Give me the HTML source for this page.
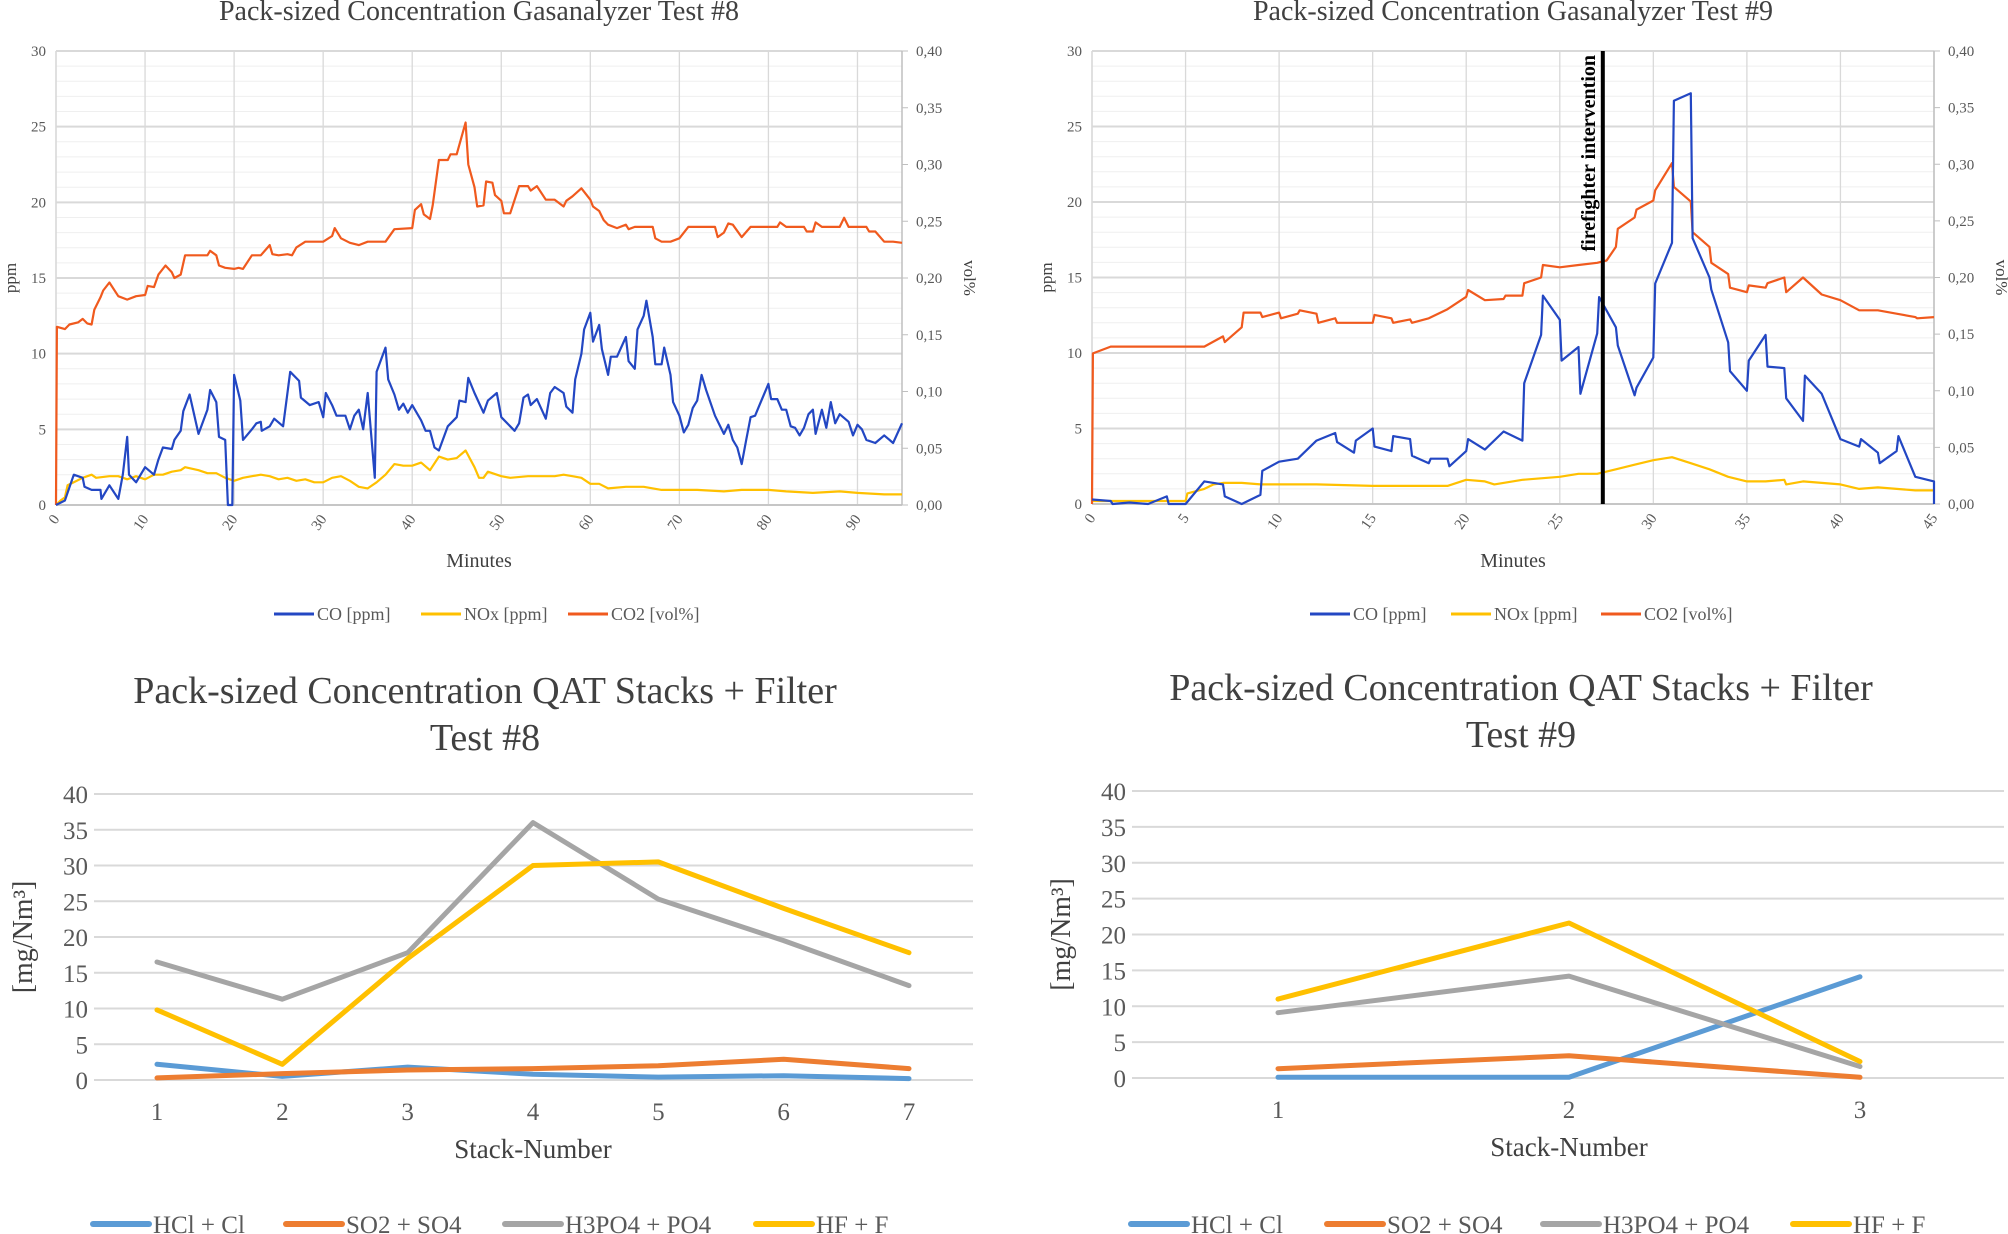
<!DOCTYPE html>
<html><head><meta charset="utf-8">
<style>
html,body{margin:0;padding:0;background:#fff;}
svg{display:block;font-family:"Liberation Serif",serif;}
</style></head>
<body>
<svg id="s" width="2008" height="1234" viewBox="0 0 2008 1234" xmlns="http://www.w3.org/2000/svg"></svg>
<script>
// ---------- Test #8 gas analyzer data ----------
const t8CoMin=[0,1,2,3,3.2,4,5,5.1,6,7,7.5,8,8.2,9,10,11,11.5,12,13,13.3,14,14.3,15,16,17,17.3,18,18.3,19,19.3,19.8,20,20.7,21,22,22.5,23,23.1,24,24.5,25.5,26.3,27.3,27.5,28.5,29.5,30,30.3,31,31.5,32.5,33,33.5,34,34.5,35,35.8,36,37,37.3,38,38.5,39,39.5,40,41,41.5,42,42.5,43,44,45,45.3,46,46.3,47,48,48.5,49.5,50,51,51.5,52,52.5,53,53.3,54,55,55.5,56,57,57.3,58,58.3,59,59.3,60,60.3,61,61.3,62,62.3,63,64,64.3,65,65.3,66,66.3,67,67.3,68,68.3,69,69.3,70,70.5,71,71.5,72,72.5,73,74,75,75.5,76,76.5,77,77.5,78,78.5,79,80,80.3,81,81.5,82,82.5,83,83.5,84,84.5,85,85.3,86,86.5,87,87.5,88,89,89.5,90,90.5,91,92,93,94,95];
const t8Co=[0,0.3,2,1.8,1.2,1.0,1.0,0.4,1.3,0.4,2,4.5,2,1.5,2.5,2,3,3.8,3.7,4.3,4.9,6.2,7.3,4.7,6.3,7.6,6.8,4.5,4.3,0,0,8.6,6.9,4.3,5,5.4,5.5,4.9,5.2,5.7,5.2,8.8,8.2,7.1,6.6,6.8,5.8,7.4,6.6,5.9,5.9,5.0,5.9,6.3,5.0,7.4,1.8,8.8,10.4,8.3,7.3,6.3,6.7,6.1,6.6,5.6,4.9,4.9,3.8,3.6,5.2,5.8,6.9,6.8,8.4,7.4,6.1,6.9,7.4,5.8,5.2,4.9,5.4,7.1,7.3,6.6,7.0,5.7,7.4,7.8,7.4,6.5,6.1,8.3,10,11.6,12.7,10.8,11.9,10.3,8.6,9.8,9.8,11.1,9.5,9.0,11.6,12.5,13.5,11.1,9.3,9.3,10.4,8.6,6.8,5.9,4.8,5.3,6.4,6.9,8.6,7.6,5.9,4.7,5.3,4.3,3.8,2.7,4.3,5.8,5.9,6.6,8.0,7.0,7.0,6.3,6.3,5.2,5.1,4.6,5.1,6.0,6.3,4.7,6.3,5.1,6.8,5.4,6.0,5.5,4.6,5.3,5.0,4.3,4.1,4.6,4.1,5.4];
const t8NoxMin=[0,0.5,1,1.3,2,3,4,4.5,6,7,8,9,10,11,12,13,14,14.5,16,17,18,19,20,21,22,23,24,25,26,27,28,29,30,31,32,33,34,35,36,37,38,39,40,41,42,43,44,45,46,47,47.5,48,48.5,50,51,53,56,57,58,59,60,61,62,64,66,68,72,75,77,80,82,85,88,90,93,95];
const t8Nox=[0,0.3,0.5,1.3,1.5,1.8,2.0,1.8,1.9,1.9,1.7,1.9,1.7,2.0,2.0,2.2,2.3,2.5,2.3,2.1,2.1,1.8,1.6,1.8,1.9,2.0,1.9,1.7,1.8,1.6,1.7,1.5,1.5,1.8,1.9,1.6,1.2,1.1,1.5,2.0,2.7,2.6,2.6,2.8,2.3,3.2,3.0,3.1,3.6,2.5,1.8,1.8,2.2,1.9,1.8,1.9,1.9,2.0,1.9,1.8,1.4,1.4,1.1,1.2,1.2,1.0,1.0,0.9,1.0,1.0,0.9,0.8,0.9,0.8,0.7,0.7];
const t8Co2Min=[0,0.1,1,1.5,2.5,3,3.5,4,4.3,5,5.3,6,7,8,9,10,10.3,11,11.5,12.3,13,13.3,14,14.5,17,17.3,18,18.3,19,20,20.5,21,22,23,24,24.3,25,26,26.5,27,28,30,31,31.3,32,33,34,35,37,38,40,40.3,41,41.3,42,42.3,43,44,44.3,45,46,46.3,47,47.3,48,48.3,49,49.3,50,50.3,51,52,53,53.3,54,55,56,57,57.3,58,59,60,60.3,61,61.5,62,63,64,64.3,65,67,67.3,68,69,70,71,74,74.3,75,75.5,76,77,78,81,81.3,82,84,84.3,85,85.3,86,88,88.5,89,91,91.3,92,93,94,95];
const t8Co2=[0,0.157,0.155,0.159,0.161,0.164,0.160,0.159,0.172,0.183,0.189,0.196,0.184,0.181,0.184,0.185,0.193,0.192,0.203,0.211,0.205,0.200,0.203,0.220,0.220,0.224,0.220,0.211,0.209,0.208,0.209,0.208,0.220,0.220,0.229,0.221,0.220,0.221,0.220,0.227,0.232,0.232,0.237,0.244,0.235,0.231,0.229,0.232,0.232,0.243,0.244,0.260,0.265,0.256,0.252,0.264,0.304,0.304,0.309,0.309,0.337,0.300,0.280,0.263,0.264,0.285,0.284,0.273,0.268,0.257,0.257,0.281,0.281,0.277,0.281,0.269,0.269,0.263,0.268,0.272,0.279,0.269,0.263,0.259,0.251,0.247,0.244,0.247,0.243,0.245,0.245,0.235,0.232,0.232,0.235,0.245,0.245,0.236,0.240,0.248,0.247,0.236,0.245,0.245,0.249,0.245,0.245,0.241,0.241,0.249,0.245,0.245,0.253,0.245,0.245,0.241,0.241,0.232,0.232,0.231];
// ---------- Test #9 gas analyzer data ----------
const t9CoMin=[0,1,1.1,2,3,4,4.1,5,6,7,7.1,8,9,9.1,10,11,12,13,13.1,14,14.1,15,15.1,16,16.1,17,17.1,18,18.1,19,19.1,20,20.1,21,22,23,23.1,24,24.1,25,25.1,26,26.1,27,27.1,28,28.1,29,29.1,30,30.1,31,31.1,32,32.1,33,33.1,34,34.1,35,35.1,36,36.1,37,37.1,38,38.1,39,40,41,41.1,42,42.1,43,43.1,44,45,45];
const t9Co=[0.3,0.2,0,0.1,0,0.5,0,0,1.5,1.3,0.5,0,0.6,2.2,2.8,3.0,4.2,4.7,4.1,3.4,4.2,5.0,3.8,3.5,4.5,4.3,3.2,2.7,3.0,3.0,2.5,3.5,4.3,3.6,4.8,4.2,8.0,11.2,13.8,12.2,9.5,10.4,7.3,11.3,13.7,11.7,10.5,7.2,7.7,9.7,14.6,17.3,26.7,27.2,17.6,15.0,14.2,10.7,8.8,7.5,9.5,11.2,9.1,9.0,7.0,5.5,8.5,7.3,4.3,3.8,4.3,3.4,2.7,3.5,4.5,1.8,1.5,0];
const t9NoxMin=[0,5,5.1,6,6.5,7,8,9,12,15,19,20,21,21.5,23,24,25,26,27,28,29,30,31,32,33,34,35,36,37,37.1,38,40,41,42,44,45];
const t9Nox=[0.2,0.2,0.7,1.0,1.3,1.4,1.4,1.3,1.3,1.2,1.2,1.6,1.5,1.3,1.6,1.7,1.8,2.0,2.0,2.3,2.6,2.9,3.1,2.7,2.3,1.8,1.5,1.5,1.6,1.3,1.5,1.3,1.0,1.1,0.9,0.9];
const t9Co2Min=[0,0.05,1,6,7,7.1,8,8.1,9,9.1,10,10.1,11,11.1,12,12.1,13,13.1,15,15.1,16,16.1,17,17.1,18,19,20,20.1,21,22,22.1,23,23.1,24,24.1,25,26,27,27.5,28,28.1,29,29.1,30,30.1,31,31.1,32,32.1,33,33.1,34,34.1,35,35.1,36,36.1,37,37.1,38,39,40,41,42,43,44,44.1,45];
const t9Co2=[0,0.133,0.139,0.139,0.148,0.143,0.156,0.169,0.169,0.165,0.169,0.164,0.168,0.171,0.168,0.160,0.164,0.160,0.160,0.167,0.164,0.160,0.163,0.160,0.164,0.172,0.183,0.189,0.180,0.181,0.184,0.184,0.195,0.200,0.211,0.209,0.211,0.213,0.215,0.227,0.243,0.253,0.260,0.268,0.277,0.301,0.280,0.267,0.240,0.227,0.213,0.203,0.191,0.187,0.193,0.191,0.195,0.200,0.187,0.200,0.185,0.180,0.171,0.171,0.168,0.165,0.164,0.165];
const gasTicksY=[0,5,10,15,20,25,30];
const gasTicksY2=["0,00","0,05","0,10","0,15","0,20","0,25","0,30","0,35","0,40"];
const t8TicksX=[0,10,20,30,40,50,60,70,80,90];
const t9TicksX=[0,5,10,15,20,25,30,35,40,45];
// ---------- QAT stacks data ----------
const q8Cats=[1,2,3,4,5,6,7];
const q8HCl=[2.2,0.5,1.8,0.8,0.4,0.6,0.2];
const q8SO2=[0.3,0.9,1.4,1.6,2.0,2.9,1.6];
const q8H3PO4=[16.5,11.3,17.8,36,25.3,19.5,13.2];
const q8HF=[9.8,2.2,17,30,30.5,24,17.8];
const q9Cats=[1,2,3];
const q9HCl=[0.1,0.1,14.1];
const q9SO2=[1.3,3.1,0.1];
const q9H3PO4=[9.1,14.2,1.6];
const q9HF=[11,21.6,2.3];
const qTicksY=[0,5,10,15,20,25,30,35,40];

const NS="http://www.w3.org/2000/svg";
const svg=document.getElementById('s');
function mk(tag,attrs,parent,text){const e=document.createElementNS(NS,tag);for(const k in attrs)e.setAttribute(k,attrs[k]);if(text!==undefined)e.textContent=text;(parent||svg).appendChild(e);return e;}

function gasChart(o){
  const g=mk('g',{});
  
  
  const L=o.l,R=o.r,T=o.t,B=o.b;
  const xs=m=>L+(m/o.xmax)*(R-L);
  const ys=v=>B-(v/30)*(B-T);
  const ys2=v=>B-(v/0.4)*(B-T);
  for(let v=0;v<=30;v+=1){ if(v%5) mk('line',{x1:L,x2:R,y1:ys(v),y2:ys(v),stroke:'#efefef','stroke-width':1},g); }
  gasTicksY.forEach(v=>{const ln=mk('line',{x1:L,x2:R,y1:ys(v),y2:ys(v),stroke:'#d9d9d9','stroke-width':2},g);
    
    const t=mk('text',{x:L-10,y:ys(v)+5,'text-anchor':'end','font-size':15,fill:'#595959'},g,String(v));
    });
  gasTicksY2.forEach((s,i)=>{const v=i*0.05;
    mk('line',{x1:R,x2:R+6,y1:ys2(v),y2:ys2(v),stroke:'#bfbfbf','stroke-width':1},g);
    const t=mk('text',{x:R+14,y:ys2(v)+5,'font-size':15,fill:'#595959'},g,s);
    });
  o.ticksX.forEach(v=>{const x=xs(v);
    mk('line',{x1:x,x2:x,y1:T,y2:B,stroke:'#d9d9d9','stroke-width':1.3},g);
    const t=mk('text',{x:x+4,y:B+14,'text-anchor':'end','font-size':15,fill:'#595959',transform:`rotate(-55 ${x+4} ${B+14})`},g,String(v));
    });
  mk('line',{x1:L,x2:L,y1:T,y2:B,stroke:'#d9d9d9','stroke-width':1.5},g);
  mk('line',{x1:R,x2:R,y1:T,y2:B,stroke:'#bfbfbf','stroke-width':1.5},g);
  mk('line',{x1:L,x2:R,y1:B,y2:B,stroke:'#bfbfbf','stroke-width':1.5},g);
  const series=[[o.nm,o.nv,'#ffc000','nox',ys],[o.c2m,o.c2v,'#f05a1e','co2',ys2],[o.cm,o.cv,'#2347c3','co',ys]];
  series.forEach(([mm,vv,col,nm,sc])=>{
    const d=mm.map((m,i)=>(i?'L':'M')+xs(m).toFixed(1)+' '+sc(vv[i]).toFixed(1)).join(' ');
    const p=mk('path',{d:d,fill:'none',stroke:col,'stroke-width':2.2,'stroke-linejoin':'round'},g);
    });
  if(o.ff!==undefined){const x=xs(o.ff);
    const ln=mk('line',{x1:x,x2:x,y1:T,y2:B,stroke:'#000','stroke-width':4},g);
    
    const t=mk('text',{x:x-8,y:T+4,'text-anchor':'end','font-size':20,'font-weight':'bold',fill:'#000',transform:`rotate(-90 ${x-8} ${T+4})`},g,'firefighter intervention');
    }
  const tt=mk('text',{x:(L+R)/2,y:20,'text-anchor':'middle','font-size':28,fill:'#404040'},g,o.title);
  
  const xt=mk('text',{x:(L+R)/2,y:567,'text-anchor':'middle','font-size':20,fill:'#404040'},g,'Minutes');
  
  const yt=mk('text',{x:0,y:0,'text-anchor':'middle','font-size':17,fill:'#404040',transform:`translate(${L-40},${(T+B)/2}) rotate(-90)`},g,'ppm');
  
  const y2=mk('text',{x:0,y:0,'text-anchor':'middle','font-size':17,fill:'#404040',transform:`translate(${R+62},${(T+B)/2}) rotate(90)`},g,'vol%');
  
  [['CO [ppm]','#2347c3'],['NOx [ppm]','#ffc000'],['CO2 [vol%]','#f05a1e']].forEach(([lab,col],i)=>{
    const x=o.leg[i];
    const lg=mk('g',{},g);
    
    mk('line',{x1:x,x2:x+40,y1:614,y2:614,stroke:col,'stroke-width':3},lg);
    mk('text',{x:x+43,y:620,'font-size':18,fill:'#595959'},lg,lab);});
}
gasChart({name:'gas-chart-test8',title:'Pack-sized  Concentration  Gasanalyzer  Test #8',l:56,r:902,t:51,b:505,xmax:95,
  cm:t8CoMin,cv:t8Co,nm:t8NoxMin,nv:t8Nox,c2m:t8Co2Min,c2v:t8Co2,ticksX:t8TicksX,leg:[274,421,568]});
gasChart({name:'gas-chart-test9',title:'Pack-sized  Concentration  Gasanalyzer  Test #9',l:1092,r:1934,t:51,b:504,xmax:45,
  cm:t9CoMin,cv:t9Co,nm:t9NoxMin,nv:t9Nox,c2m:t9Co2Min,c2v:t9Co2,ticksX:t9TicksX,ff:27.3,leg:[1310,1451,1601]});

function qatChart(o){
  const g=mk('g',{});
  
  
  const ys=v=>o.b-(v/40)*(o.b-o.t);
  const n=o.cats.length;
  const xs=i=>o.x1+(i/(n-1))*(o.xn-o.x1);
  qTicksY.forEach(v=>{const ln=mk('line',{x1:o.gl,x2:o.gr,y1:ys(v),y2:ys(v),stroke:'#d9d9d9','stroke-width':2},g);
    
    const t=mk('text',{x:o.gl-6,y:ys(v)+9,'text-anchor':'end','font-size':25,fill:'#595959'},g,String(v));
    });
  o.cats.forEach((c,i)=>{const t=mk('text',{x:xs(i),y:o.b+40,'text-anchor':'middle','font-size':25,fill:'#595959'},g,String(c));
    });
  const series=[[o.hcl,'#5b9bd5','hcl'],[o.so2,'#ed7d31','so2'],[o.h3po4,'#a5a5a5','h3po4'],[o.hf,'#ffc000','hf']];
  series.forEach(([vv,col,nm])=>{
    const pts=vv.map((v,i)=>xs(i).toFixed(1)+','+ys(v).toFixed(1)).join(' ');
    const p=mk('polyline',{points:pts,fill:'none',stroke:col,'stroke-width':5,'stroke-linejoin':'round','stroke-linecap':'round'},g);
    });
  o.title.forEach((s,i)=>{const t=mk('text',{x:o.tc,y:o.ty+i*47,'text-anchor':'middle','font-size':38,fill:'#404040'},g,s);
    });
  const xt=mk('text',{x:(o.x1+o.xn)/2,y:o.b+78,'text-anchor':'middle','font-size':27,fill:'#404040'},g,'Stack-Number');
  
  const yt=mk('text',{x:0,y:0,'text-anchor':'middle','font-size':28,fill:'#404040',transform:`translate(${o.yt},${(o.t+o.b)/2}) rotate(-90)`},g,'[mg/Nm³]');
  
  [['HCl + Cl','#5b9bd5'],['SO2 + SO4','#ed7d31'],['H3PO4 + PO4','#a5a5a5'],['HF + F','#ffc000']].forEach(([lab,col],i)=>{
    const x=o.leg[i];
    const lg=mk('g',{},g);
    
    mk('line',{x1:x,x2:x+56,y1:1224,y2:1224,stroke:col,'stroke-width':6,'stroke-linecap':'round'},lg);
    mk('text',{x:x+60,y:1233,'font-size':25,fill:'#595959'},lg,lab);});
}
qatChart({name:'qat-chart-test8',cats:q8Cats,hcl:q8HCl,so2:q8SO2,h3po4:q8H3PO4,hf:q8HF,t:794,b:1080,gl:94,gr:973,x1:157,xn:909,
  title:['Pack-sized  Concentration  QAT Stacks + Filter','Test #8'],tc:485,ty:703,yt:32,leg:[93,286,505,756]});
qatChart({name:'qat-chart-test9',cats:q9Cats,hcl:q9HCl,so2:q9SO2,h3po4:q9H3PO4,hf:q9HF,t:791,b:1078,gl:1132,gr:2004,x1:1278,xn:1860,
  title:['Pack-sized  Concentration  QAT Stacks + Filter','Test #9'],tc:1521,ty:700,yt:1070,leg:[1131,1327,1543,1793]});
</script>
</body></html>
